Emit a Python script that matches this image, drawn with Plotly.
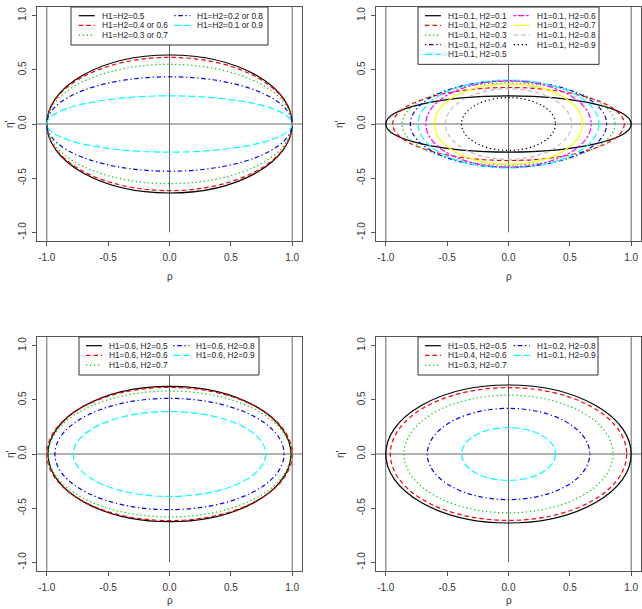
import plotly.graph_objects as go

W, H = 642, 609
FONT = "Liberation Sans, Arial, Helvetica, sans-serif"

# ---------------- data ----------------
tick_vals = [-1.0, -0.5, 0.0, 0.5, 1.0]
tick_text = ["-1.0", "-0.5", "0.0", "0.5", "1.0"]
ref_vertical = [-1.0, 1.0]      # full-height reference lines
ref_horizontal = [0.0]          # full-width reference line
ref_center = [0.0]              # vertical segment from -1 to 1
ref_center_span = [-1.0, 1.0]

# panel 1: H1 = H2
p1_labels = ["H1=H2=0.5", "H1=H2=0.4 or 0.6", "H1=H2=0.3 or 0.7",
             "H1=H2=0.2 or 0.8", "H1=H2=0.1 or 0.9"]
p1_rho_extent = [1.0, 1.0, 1.0, 1.0, 1.0]
p1_eta_extent = [0.637, 0.615, 0.551, 0.436, 0.26]

# panel 2: H1 = 0.1
p2_labels = ["H1=0.1, H2=0.1", "H1=0.1, H2=0.2", "H1=0.1, H2=0.3",
             "H1=0.1, H2=0.4", "H1=0.1, H2=0.5", "H1=0.1, H2=0.6",
             "H1=0.1, H2=0.7", "H1=0.1, H2=0.8", "H1=0.1, H2=0.9"]
p2_rho_extent = [1.0, 0.944, 0.868, 0.80, 0.737, 0.674, 0.603, 0.514, 0.383]
p2_eta_extent = [0.26, 0.337, 0.379, 0.40, 0.406, 0.397, 0.371, 0.325, 0.244]

# panel 3: H1 = 0.6
p3_labels = ["H1=0.6, H2=0.5", "H1=0.6, H2=0.6", "H1=0.6, H2=0.7",
             "H1=0.6, H2=0.8", "H1=0.6, H2=0.9"]
p3_rho_extent = [0.99, 1.0, 0.987, 0.934, 0.784]
p3_eta_extent = [0.625, 0.615, 0.581, 0.514, 0.392]

# panel 4: H1 + H2 = 1
p4_labels = ["H1=0.5, H2=0.5", "H1=0.4, H2=0.6", "H1=0.3, H2=0.7",
             "H1=0.2, H2=0.8", "H1=0.1, H2=0.9"]
p4_rho_extent = [1.0, 0.963, 0.852, 0.662, 0.383]
p4_eta_extent = [0.637, 0.613, 0.543, 0.421, 0.244]

# ---------------- styles ----------------
COLORS = ["#000000", "#FF0000", "#00CD00", "#0000FF", "#00FFFF",
          "#FF00FF", "#FFFF00", "#BEBEBE", "#000000"]
DASHES = ["solid", "4.5px,3px", "1.3px,2.7px", "1.3px,2.7px,4.5px,2.7px",
          "7px,3px", "2.5px,2px,6px,2px", "solid", "4.5px,3px", "1.3px,2.7px"]
LW = 1.2
AXCOL = "#555555"
REFCOL = "#666666"

XDOM_L = [37 / W, 302 / W]
XDOM_R = [376 / W, 641 / W]
YDOM_T = [1 - 241 / H, 1 - 7 / H]
YDOM_B = [1 - 571 / H, 1 - 337 / H]

panels = [
    dict(labels=p1_labels, a=p1_rho_extent, b=p1_eta_extent, xd=XDOM_L, yd=YDOM_T,
         nrow=3, box=(71, 268, 7), c1=78.7, c2=174.3, ylab_x=10, xlab_y=276),
    dict(labels=p2_labels, a=p2_rho_extent, b=p2_eta_extent, xd=XDOM_R, yd=YDOM_T,
         nrow=5, box=(418, 599, 7), c1=425, c2=513.7, ylab_x=340, xlab_y=276),
    dict(labels=p3_labels, a=p3_rho_extent, b=p3_eta_extent, xd=XDOM_L, yd=YDOM_B,
         nrow=3, box=(79, 259, 337), c1=86, c2=173.3, ylab_x=10, xlab_y=600),
    dict(labels=p4_labels, a=p4_rho_extent, b=p4_eta_extent, xd=XDOM_R, yd=YDOM_B,
         nrow=3, box=(418, 598, 337), c1=425, c2=513.7, ylab_x=340, xlab_y=600),
]

fig = go.Figure()
shapes = []
annotations = []
layout = {}

ROWSTEP = 9.67
SAMPLE_LEN = 16
TEXT_OFF = 22


def px_x(v):
    return v / W


def px_y(v):
    return 1 - v / H


for i, p in enumerate(panels, start=1):
    sfx = "" if i == 1 else str(i)
    xr, yr = "x" + sfx, "y" + sfx
    common = dict(range=[-1.08, 1.08], showgrid=False, zeroline=False, showline=True,
                  mirror=True, linecolor=AXCOL, linewidth=1, ticks="outside", ticklen=4,
                  tickwidth=1, tickcolor=AXCOL, tickvals=tick_vals, ticktext=tick_text,
                  tickfont=dict(size=10, color="#333333", family=FONT), fixedrange=True)
    layout["xaxis" + sfx] = dict(domain=p["xd"], anchor=yr, ticklabelstandoff=3, **common)
    layout["yaxis" + sfx] = dict(domain=p["yd"], anchor=xr, tickangle=-90,
                                 ticklabelstandoff=2, **common)

    # reference lines
    for v in ref_vertical:
        shapes.append(dict(type="line", xref=xr, yref=yr + " domain", x0=v, x1=v, y0=0, y1=1,
                           line=dict(color=REFCOL, width=1), layer="above"))
    for h in ref_horizontal:
        shapes.append(dict(type="line", xref=xr + " domain", yref=yr, x0=0, x1=1, y0=h, y1=h,
                           line=dict(color=REFCOL, width=1), layer="above"))
    for v in ref_center:
        shapes.append(dict(type="line", xref=xr, yref=yr, x0=v, x1=v,
                           y0=ref_center_span[0], y1=ref_center_span[1],
                           line=dict(color=REFCOL, width=1), layer="above"))

    # curves (closed ellipses through axis scales)
    for k, (a, b) in enumerate(zip(p["a"], p["b"])):
        shapes.append(dict(type="circle", xref=xr, yref=yr, x0=-a, x1=a, y0=-b, y1=b,
                           line=dict(color=COLORS[k], width=LW, dash=DASHES[k]),
                           fillcolor="rgba(0,0,0,0)", layer="above"))

    # legend box
    bl, br, bt = p["box"]
    bb = bt + p["nrow"] * ROWSTEP + 9
    shapes.append(dict(type="rect", xref="paper", yref="paper",
                       x0=px_x(bl), x1=px_x(br), y0=px_y(bb), y1=px_y(bt),
                       line=dict(color="#333333", width=1), fillcolor="white", layer="above"))
    for k, lab in enumerate(p["labels"]):
        col = 0 if k < p["nrow"] else 1
        row = k if col == 0 else k - p["nrow"]
        cy = bt + 8.7 + row * ROWSTEP
        sx = p["c1"] if col == 0 else p["c2"]
        shapes.append(dict(type="line", xref="paper", yref="paper",
                           x0=px_x(sx), x1=px_x(sx + SAMPLE_LEN), y0=px_y(cy), y1=px_y(cy),
                           line=dict(color=COLORS[k], width=LW, dash=DASHES[k]), layer="above"))
        annotations.append(dict(text=lab, xref="paper", yref="paper",
                                x=px_x(sx + TEXT_OFF), y=px_y(cy), xanchor="left",
                                yanchor="middle", showarrow=False, borderpad=0,
                                font=dict(size=8.3, color="#222222", family=FONT)))

    # axis titles
    cx = (p["xd"][0] + p["xd"][1]) / 2
    cyy = (p["yd"][0] + p["yd"][1]) / 2
    annotations.append(dict(text="ρ", xref="paper", yref="paper", x=cx, y=px_y(p["xlab_y"]),
                            xanchor="center", yanchor="middle", showarrow=False,
                            font=dict(size=10, color="#333333", family=FONT)))
    annotations.append(dict(text="η'", xref="paper", yref="paper", x=px_x(p["ylab_x"]),
                            y=cyy, xanchor="center", yanchor="middle", showarrow=False,
                            textangle=-90, font=dict(size=10, color="#333333", family=FONT)))

fig.update_layout(width=W, height=H, margin=dict(l=0, r=0, t=0, b=0),
                  paper_bgcolor="white", plot_bgcolor="white", showlegend=False,
                  shapes=shapes, annotations=annotations, **layout)

fig.write_html("out.html")
